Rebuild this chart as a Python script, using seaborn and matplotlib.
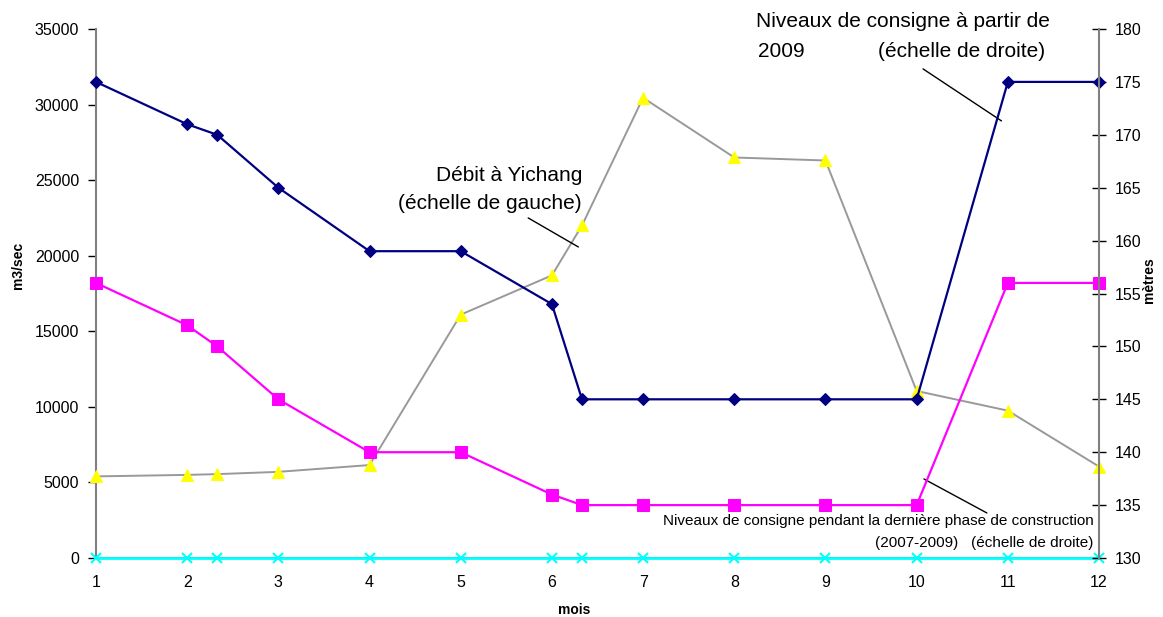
import matplotlib
matplotlib.use("Agg")
import matplotlib.pyplot as plt
import seaborn as sns

# month positions (two extra points inside months 2-3 and 6-7)
mois = [1, 2, 2.33, 3, 4, 5, 6, 6.33, 7, 8, 9, 10, 11, 12]

# flow at Yichang, m3/sec (left scale)
debit = [5400, 5500, 5550, 5700, 6150, 16100, 18700, 22000, 30450, 26500, 26300, 11050, 9750, 6050]
# water levels from 2009, metres (right scale)
niveau_2009 = [175, 171, 170, 165, 159, 159, 154, 145, 145, 145, 145, 145, 175, 175]
# water levels during last construction phase 2007-2009, metres (right scale)
niveau_2007 = [156, 152, 150, 145, 140, 140, 136, 135, 135, 135, 135, 135, 156, 156]
# flat zero series
zero = [0] * len(mois)

left_ticks = [0, 5000, 10000, 15000, 20000, 25000, 30000, 35000]
right_ticks = [130, 135, 140, 145, 150, 155, 160, 165, 170, 175, 180]

sns.set_style("white")
plt.rcParams['font.family'] = ['Liberation Sans', 'DejaVu Sans']
plt.rcParams['text.color'] = 'black'
plt.rcParams['xtick.labelcolor'] = 'black'
plt.rcParams['ytick.labelcolor'] = 'black'

fig = plt.figure(figsize=(11.63, 6.17), dpi=100)
ax = fig.add_axes([0.0825, 0.0956, 0.8625, 0.8574])
ax2 = ax.twinx()

# left scale series
sns.lineplot(x=mois, y=debit, ax=ax, color='#999999', linewidth=1.4, marker='^',
             markersize=9, markerfacecolor='#ffff00', markeredgecolor='#ffff00', clip_on=False, zorder=3)
sns.lineplot(x=mois, y=zero, ax=ax, color='#00ffff', linewidth=2, marker='x',
             markersize=7, markeredgewidth=1.5, markeredgecolor='#00ffff', clip_on=False, zorder=4)

# right scale series
sns.lineplot(x=mois, y=niveau_2007, ax=ax2, color='#ff00ff', linewidth=1.6, marker='s',
             markersize=8, markerfacecolor='#ff00ff', markeredgecolor='#ff00ff', clip_on=False)
sns.lineplot(x=mois, y=niveau_2009, ax=ax2, color='#000080', linewidth=1.6, marker='D',
             markersize=6, markerfacecolor='#000080', markeredgecolor='#000080', clip_on=False)

ax.set_xlim(1, 12)
ax.set_ylim(0, 35000)
ax2.set_ylim(130, 180)
ax.set_xticks(range(1, 13))
ax.set_yticks(left_ticks)
ax2.set_yticks(right_ticks)

for a in (ax, ax2):
    a.spines['top'].set_visible(False)
    for s in a.spines.values():
        s.set_color('#808080')
        s.set_linewidth(1.5)
ax.spines['right'].set_visible(False)
ax2.spines['left'].set_visible(False)
ax2.spines['bottom'].set_visible(False)

ax.tick_params(axis='y', direction='out', length=6, width=1, color='black', labelsize=11.5, pad=6)
ax.tick_params(axis='x', direction='inout', length=8, width=1, color='black', labelsize=11.5, pad=8)
ax2.tick_params(axis='y', direction='inout', length=10, width=1, color='black', labelsize=11.5, pad=6)

# annotations
ax.text(9.85, 35470, "Niveaux de consigne à partir de", fontsize=15, ha='center', va='center')
ax.text(8.52, 33490, "2009", fontsize=15, ha='center', va='center')
ax.text(10.49, 33490, "(échelle de droite)", fontsize=15, ha='center', va='center')
ax.plot([10.07, 10.93], [32360, 28920], color='black', linewidth=1, zorder=5)

ax.text(6.33, 25280, "Débit à Yichang", fontsize=15, ha='right', va='center')
ax.text(6.33, 23430, "(échelle de gauche)", fontsize=15, ha='right', va='center')
ax.plot([5.74, 6.29], [22500, 20580], color='black', linewidth=1, zorder=5)

ax.text(11.94, 2450, "Niveaux de consigne pendant la dernière phase de construction",
        fontsize=11, ha='right', va='center')
ax.text(11.94, 1000, "(2007-2009)   (échelle de droite)", fontsize=11, ha='right', va='center')
ax.plot([10.08, 10.77], [5230, 2980], color='black', linewidth=1, zorder=5)

fig.text(0.0155, 0.5705, "m3/sec", rotation=90, fontsize=10, fontweight='bold', ha='center', va='center')
fig.text(0.988, 0.546, "mètres", rotation=90, fontsize=10, fontweight='bold', ha='center', va='center')
fig.text(0.494, 0.0113, "mois", fontsize=10, fontweight='bold', ha='center', va='center')

fig.savefig("out.png", dpi=100)
